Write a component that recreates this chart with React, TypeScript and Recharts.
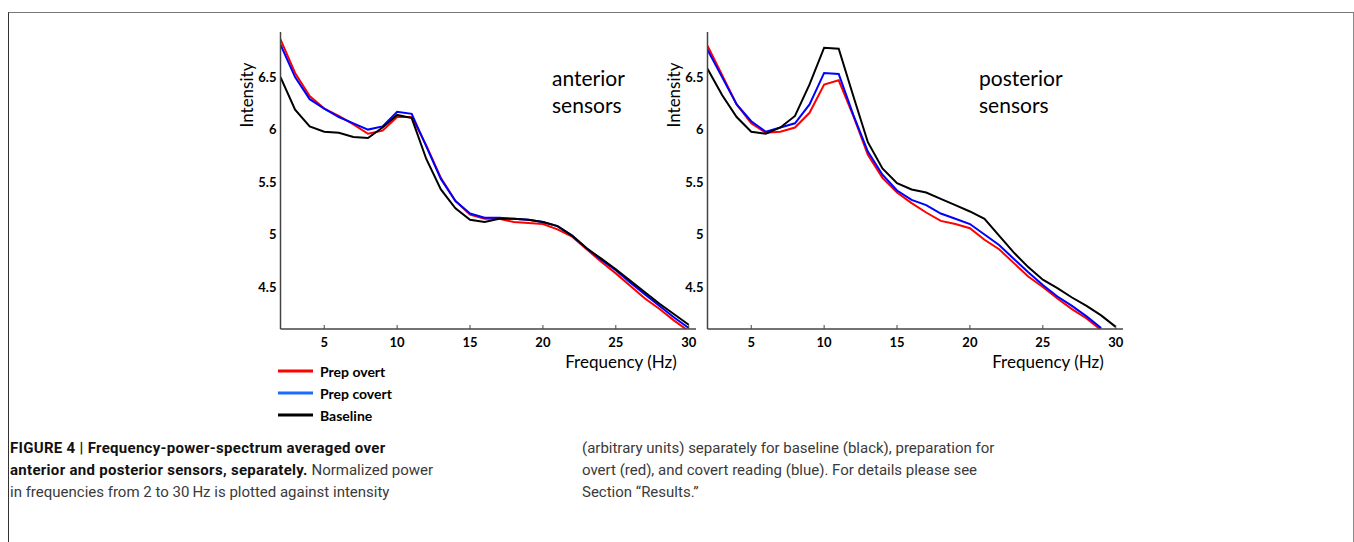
import { LineChart, Line, XAxis, YAxis } from 'recharts'

const freqs = [2, 3, 4, 5, 6, 7, 8, 9, 10, 11, 12, 13, 14, 15, 16, 17, 18, 19, 20, 21, 22, 23, 24, 25, 26, 27, 28, 29, 30]
const xTicks = [5, 10, 15, 20, 25, 30]
const yTicks = [4.5, 5, 5.5, 6, 6.5]

// anterior sensors
const antOvert = [6.86, 6.54, 6.32, 6.2, 6.13, 6.05, 5.96, 5.99, 6.12, 6.12, 5.85, 5.54, 5.32, 5.19, 5.15, 5.15, 5.12, 5.11, 5.1, 5.05, 4.98, 4.86, 4.74, 4.63, 4.51, 4.39, 4.29, 4.18, 4.08]
const antCovert = [6.81, 6.5, 6.29, 6.2, 6.12, 6.06, 6.0, 6.03, 6.17, 6.15, 5.84, 5.53, 5.32, 5.2, 5.16, 5.16, 5.15, 5.14, 5.12, 5.08, 4.99, 4.87, 4.76, 4.66, 4.54, 4.43, 4.32, 4.21, 4.11]
const antBase = [6.5, 6.19, 6.03, 5.98, 5.97, 5.93, 5.92, 6.02, 6.14, 6.11, 5.72, 5.43, 5.25, 5.14, 5.12, 5.15, 5.15, 5.14, 5.12, 5.08, 4.99, 4.87, 4.77, 4.67, 4.56, 4.45, 4.34, 4.24, 4.14]

// posterior sensors
const postOvert = [6.8, 6.52, 6.24, 6.06, 5.97, 5.98, 6.02, 6.16, 6.43, 6.47, 6.13, 5.76, 5.54, 5.4, 5.3, 5.21, 5.13, 5.1, 5.06, 4.95, 4.86, 4.73, 4.6, 4.5, 4.39, 4.29, 4.2, 4.09, null]
const postCovert = [6.76, 6.5, 6.24, 6.08, 5.98, 6.02, 6.06, 6.24, 6.54, 6.53, 6.14, 5.79, 5.57, 5.42, 5.33, 5.28, 5.2, 5.15, 5.1, 5.0, 4.9, 4.77, 4.64, 4.52, 4.41, 4.32, 4.22, 4.11, null]
const postBase = [6.58, 6.33, 6.12, 5.98, 5.96, 6.02, 6.13, 6.43, 6.78, 6.77, 6.32, 5.88, 5.63, 5.49, 5.43, 5.4, 5.34, 5.28, 5.22, 5.15, 4.99, 4.83, 4.69, 4.57, 4.49, 4.4, 4.32, 4.23, 4.12]

const seriesNames = ['Prep overt', 'Prep covert', 'Baseline']
const lineColors = ['#ff0000', '#0000ff', '#000000']
const legendColors = ['#ff0000', '#1a6cff', '#000000']

const antData = freqs.map((f, i) => ({ f, overt: antOvert[i], covert: antCovert[i], base: antBase[i] }))
const postData = freqs.map((f, i) => ({ f, overt: postOvert[i], covert: postCovert[i], base: postBase[i] }))

const chartFont = 'Lato, "Open Sans", sans-serif'
const tickStyle = { fill: '#000', fontSize: 13, fontWeight: 700, fontFamily: chartFont }

function Panel({ data, left, title }: { data: any[]; left: number; title: string[] }) {
  // plot area: x from left+80 to left+496, y from 32 to 329
  return (
    <div style={{ position: 'absolute', left, top: 0 }}>
      <LineChart width={520} height={400} data={data} margin={{ top: 32, right: 24, bottom: 41, left: 0 }}>
        <XAxis
          dataKey="f" type="number" domain={[2, 30.5]} ticks={xTicks} allowDataOverflow
          height={30} tickSize={-4} tickMargin={13} tick={tickStyle}
          stroke="#444" axisLine={{ stroke: '#444', strokeWidth: 1.5 }}
        />
        <YAxis
          type="number" domain={[4.1, 6.93]} ticks={yTicks} allowDataOverflow
          width={80.5} tickLine={false} tickSize={0} tickMargin={4} tick={tickStyle}
          axisLine={{ stroke: '#444', strokeWidth: 1.5 }}
        />
        <Line dataKey="overt" stroke={lineColors[0]} strokeWidth={2} dot={false} isAnimationActive={false} type="linear" />
        <Line dataKey="covert" stroke={lineColors[1]} strokeWidth={2} dot={false} isAnimationActive={false} type="linear" />
        <Line dataKey="base" stroke={lineColors[2]} strokeWidth={2} dot={false} isAnimationActive={false} type="linear" />
      </LineChart>
      <div style={{ position: 'absolute', left: 46, top: 95, transform: 'translate(-50%, -50%) rotate(-90deg)', fontFamily: chartFont, fontSize: 17, lineHeight: '17px', whiteSpace: 'nowrap' }}>
        Intensity
      </div>
      <div style={{ position: 'absolute', left: 421, top: 361, transform: 'translate(-50%, -50%)', fontFamily: chartFont, fontSize: 17, whiteSpace: 'nowrap' }}>
        Frequency (Hz)
      </div>
      <div style={{ position: 'absolute', left: 352, top: 64, fontFamily: chartFont, fontSize: 21, lineHeight: '27px' }}>
        {title.map(t => <div key={t}>{t}</div>)}
      </div>
    </div>
  )
}

export default function App() {
  return (
    <div style={{ position: 'absolute', left: 0, top: 0, width: 1354, height: 542, background: '#fff', overflow: 'hidden' }}>
      <div style={{ position: 'absolute', left: 8, top: 12, width: 1344, height: 540, borderTop: '1.5px solid #777', borderLeft: '1.5px solid #333', borderRight: '1.5px solid #888' }} />
      <Panel data={antData} left={200} title={['anterior', 'sensors']} />
      <Panel data={postData} left={627} title={['posterior', 'sensors']} />

      {/* legend */}
      <div style={{ position: 'absolute', left: 278, top: 360 }}>
        {seriesNames.map((name, i) => (
          <div key={name} style={{ display: 'flex', alignItems: 'center', height: 22 }}>
            <svg width={36} height={6}><line x1={0} y1={3} x2={35} y2={3} stroke={legendColors[i]} strokeWidth={3} /></svg>
            <span style={{ marginLeft: 6, fontFamily: chartFont, fontWeight: 700, fontSize: 14 }}>{name}</span>
          </div>
        ))}
      </div>

      {/* caption */}
      <div style={{ position: 'absolute', left: 10, top: 437, width: 560, fontFamily: 'Roboto, sans-serif', fontSize: 15, lineHeight: '22px', color: '#3a3a3a' }}>
        <b style={{ color: '#111', letterSpacing: 0.3 }}>FIGURE 4 | Frequency-power-spectrum averaged over<br />anterior and posterior sensors, separately.</b> Normalized power<br />
        in frequencies from 2 to 30&#8201;Hz is plotted against intensity
      </div>
      <div style={{ position: 'absolute', left: 582, top: 437, width: 560, fontFamily: 'Roboto, sans-serif', fontSize: 15, lineHeight: '22px', color: '#3a3a3a' }}>
        (arbitrary units) separately for baseline (black), preparation for<br />
        overt (red), and covert reading (blue). For details please see<br />
        Section &ldquo;Results.&rdquo;
      </div>
    </div>
  )
}
